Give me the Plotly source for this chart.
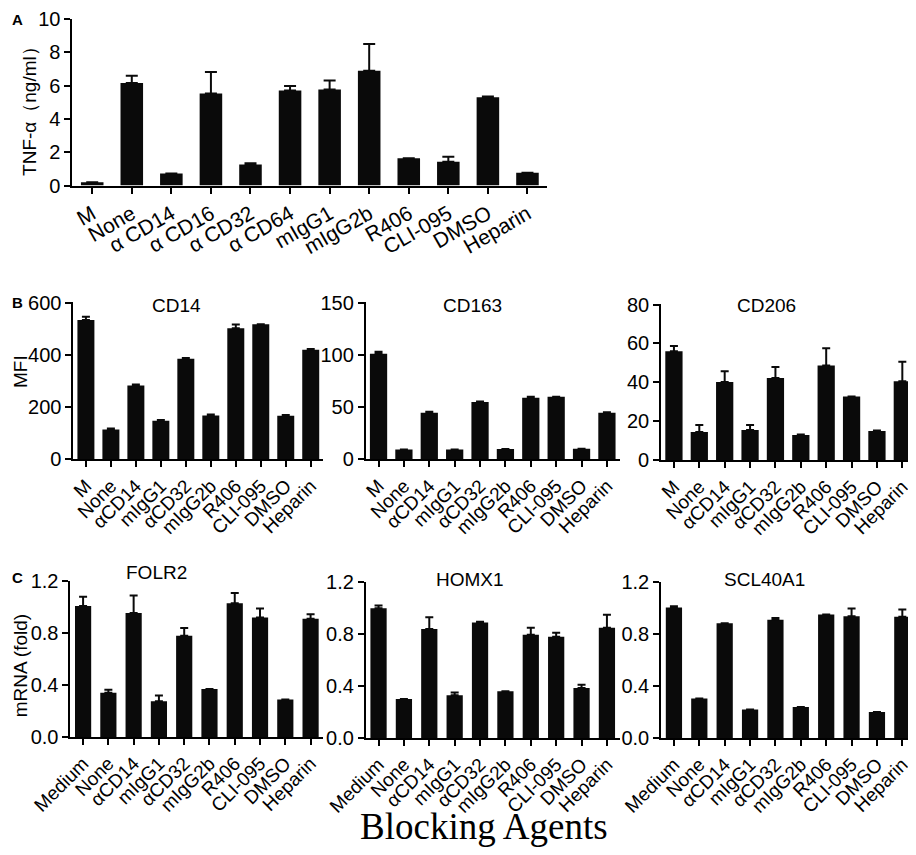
import plotly.graph_objects as go

# reference is 916x855; the figure is drawn a little smaller so the page never scrolls
W, H = 908, 839
REF_W, REF_H = 916, 855

# Panel A: TNF-alpha secretion
a_labels = ["M", "None", "α CD14", "α CD16", "α CD32", "α CD64", "mIgG1", "mIgG2b",
            "R406", "CLI-095", "DMSO", "Heparin"]
a_tnf = [0.2, 6.17, 0.73, 5.54, 1.27, 5.71, 5.77, 6.9, 1.65, 1.44, 5.3, 0.77]
a_tnf_err = [0, 0.43, 0, 1.29, 0.08, 0.27, 0.54, 1.6, 0, 0.29, 0.05, 0]

# Panel B: surface markers (MFI)
b_labels = ["M", "None", "αCD14", "mIgG1", "αCD32", "mIgG2b", "R406", "CLI-095", "DMSO", "Heparin"]
cd14 = [534, 114, 283, 148, 385, 168, 502, 517, 167, 420]
cd14_err = [12, 4, 4, 3, 3, 4, 14, 0, 3, 3]
cd163 = [101, 9.4, 44.6, 9.4, 54.9, 10, 59, 60, 10.3, 44.6]
cd163_err = [2, 0, 1, 0, 0.5, 0, 1, 0, 0, 0.5]
cd206 = [56, 14.6, 40.3, 15.6, 42.3, 13, 48.7, 32.8, 15.1, 40.6]
cd206_err = [2.7, 3.5, 5.5, 2.5, 5.7, 0.3, 8.8, 0, 0.3, 10]

# Panel C: mRNA fold change
c_labels = ["Medium", "None", "αCD14", "mIgG1", "αCD32", "mIgG2b", "R406", "CLI-095", "DMSO", "Heparin"]
folr2 = [1.01, 0.342, 0.955, 0.276, 0.78, 0.37, 1.03, 0.92, 0.29, 0.91]
folr2_err = [0.07, 0.022, 0.135, 0.044, 0.06, 0, 0.08, 0.07, 0, 0.035]
homx1 = [1.0, 0.30, 0.84, 0.33, 0.89, 0.36, 0.796, 0.78, 0.385, 0.85]
homx1_err = [0.02, 0, 0.09, 0.02, 0.005, 0, 0.054, 0.03, 0.025, 0.1]
scl40a1 = [1.005, 0.305, 0.884, 0.22, 0.91, 0.24, 0.952, 0.937, 0.2, 0.934]
scl40a1_err = [0.01, 0, 0, 0, 0.015, 0, 0, 0.06, 0, 0.056]

SANS = "Liberation Sans, Arial, sans-serif"
BLACK = "#0a0a0a"

def px_x(x0, x1):
    return [x0 / REF_W, min(x1 / REF_W, 1)]

def px_y(top, bottom):
    return [1 - bottom / REF_H, 1 - top / REF_H]

def pos(x, y):
    return x / REF_W, 1 - y / REF_H

# (labels, values, errors, x px, y px, y range, dtick, fmt, bar width, cap, tick angle, tick font, ytick font, title, title pos)
panels = [
    (a_labels, a_tnf, a_tnf_err, (65, 544), (11, 181), [0, 10.02], 2, None, 0.57, 6, -30, 21, 20, None, None),
    (b_labels, cd14, cd14_err, (66, 318), (300, 460), [0, 601], 200, None, 0.68, 4, -45, 19, 20, "CD14", (170, 303)),
    (b_labels, cd163, cd163_err, (361, 617), (300, 460), [0, 150.2], 50, None, 0.68, 4, -45, 19, 20, "CD163", (469, 303)),
    (b_labels, cd206, cd206_err, (659, 915), (302, 461), [0, 80.1], 20, None, 0.68, 4, -45, 19, 20, "CD206", (765, 303)),
    (c_labels, folr2, folr2_err, (63, 318), (584, 743), [0, 1.201], 0.4, ".1f", 0.64, 4, -45, 19, 20, "FOLR2", (150, 575)),
    (c_labels, homx1, homx1_err, (361, 617), (585, 744), [0, 1.201], 0.4, ".1f", 0.64, 4, -45, 19, 20, "HOMX1", (466, 582)),
    (c_labels, scl40a1, scl40a1_err, (659, 915), (585, 744), [0, 1.201], 0.4, ".1f", 0.64, 4, -45, 19, 20, "SCL40A1", (763, 582)),
]

fig = go.Figure()
annotations = []
layout_axes = {}

for i, (labels, vals, errs, xpx, ypx, yrange, dtick, fmt, bw, cap, ang, tfs, yfs, title, tpos) in enumerate(panels):
    n = "" if i == 0 else str(i + 1)
    fig.add_trace(go.Bar(
        x=labels, y=vals, width=bw, marker=dict(color=BLACK, line=dict(width=0)),
        error_y=dict(type="data", array=errs, arrayminus=[0] * len(errs), symmetric=False,
                     color=BLACK, thickness=2, width=cap),
        xaxis="x" + n, yaxis="y" + n, showlegend=False,
    ))
    layout_axes["xaxis" + n] = dict(
        domain=px_x(*xpx), anchor="y" + n, type="category", range=[-0.5, len(labels) - 0.5],
        showline=True, linecolor="black", linewidth=2, ticks="outside", ticklen=6, tickwidth=2,
        tickcolor="black", tickangle=ang, tickfont=dict(family=SANS, size=tfs, color="black"),
        showgrid=False, zeroline=False, automargin=False, fixedrange=True,
    )
    layout_axes["yaxis" + n] = dict(
        domain=px_y(*ypx), anchor="x" + n, range=yrange, dtick=dtick, tick0=0,
        tickformat=fmt, showline=True, linecolor="black", linewidth=2, ticks="outside",
        ticklen=6, tickwidth=2, tickcolor="black", tickfont=dict(family=SANS, size=yfs, color="black"),
        ticklabeloverflow="allow", showgrid=False, zeroline=False, automargin=False, fixedrange=True,
    )
    if title:
        tx, ty = pos(*tpos)
        annotations.append(dict(text=title, x=tx, y=ty, xref="paper", yref="paper",
                                showarrow=False, xanchor="center", yanchor="middle",
                                font=dict(family=SANS, size=19, color="black")))

# Panel letters and y-axis titles
for letter, yp in [("A", 12), ("B", 300), ("C", 580)]:
    lx, ly = pos(10, yp)
    annotations.append(dict(text="<b>" + letter + "</b>", x=lx, y=ly, xref="paper", yref="paper",
                            showarrow=False, xanchor="center", yanchor="middle",
                            font=dict(family=SANS, size=15, color="black")))

for text, xp, yp in [("TNF-α（ng/ml）", 21, 100), ("MFI", 12, 370), ("mRNA (fold)", 13, 670)]:
    tx, ty = pos(xp, yp)
    annotations.append(dict(text=text, x=tx, y=ty, xref="paper", yref="paper", textangle=-90,
                            showarrow=False, xanchor="center", yanchor="middle",
                            font=dict(family=SANS, size=19, color="black")))

bx, by = pos(480, 834)
annotations.append(dict(text="Blocking Agents", x=bx, y=by, xref="paper", yref="paper",
                        showarrow=False, xanchor="center", yanchor="middle",
                        font=dict(family="Liberation Serif, Times New Roman, serif", size=37, color="black")))

fig.update_layout(
    width=W, height=H, margin=dict(l=0, r=0, t=0, b=0),
    paper_bgcolor="white", plot_bgcolor="white",
    annotations=annotations, bargap=0.3, **layout_axes,
)

fig.write_html("out.html")
